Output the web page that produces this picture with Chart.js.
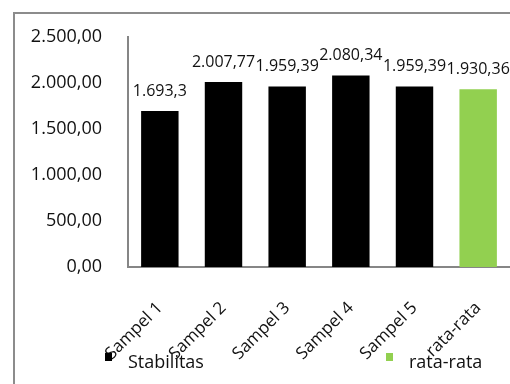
<!DOCTYPE html>
<html>
<head>
<meta charset="utf-8">
<script src="https://cdn.jsdelivr.net/npm/chart.js@4"></script>
<style>
  html, body { margin: 0; padding: 0; background: #fff; overflow: hidden; }
  #wrap { position: relative; width: 510px; height: 384px; }
</style>
</head>
<body>
<div id="wrap"><canvas id="chart" width="510" height="384"></canvas></div>
<script>
// --- data ---
const categories = ['Sampel 1', 'Sampel 2', 'Sampel 3', 'Sampel 4', 'Sampel 5', 'rata-rata'];
const stabilitas = [1693.3, 2007.77, 1959.39, 2080.34, 1959.39, null];
const rataRata = [null, null, null, null, null, 1930.36];
const yTicks = [0, 500, 1000, 1500, 2000, 2500];

const FONT = '"Open Sans", "DejaVu Sans", sans-serif';
const TEXT = '#111';

// 1234.5 -> "1.234,5" (fixed = true keeps both decimals)
function fmtNum(v, fixed) {
    let s = v.toFixed(2);
    if (!fixed) s = s.replace(/\.?0+$/, '');
    const [i, d] = s.split('.');
    const intPart = i.replace(/\B(?=(\d{3})+(?!\d))/g, '.');
    return d ? intPart + ',' + d : intPart;
}

// outer frame of the chart object (left + top edges visible)
const framePlugin = {
    id: 'frame',
    beforeDraw(chart) {
        const ctx = chart.ctx;
        ctx.save();
        ctx.strokeStyle = '#8c8c8c';
        ctx.lineWidth = 2;
        ctx.beginPath();
        ctx.moveTo(14, chart.height);
        ctx.lineTo(14, 13);
        ctx.lineTo(chart.width, 13);
        ctx.stroke();
        ctx.restore();
    }
};

// value labels above each bar
const valueLabels = {
    id: 'valueLabels',
    afterDatasetsDraw(chart) {
        const ctx = chart.ctx;
        ctx.save();
        ctx.font = '16px ' + FONT;
        ctx.fillStyle = TEXT;
        ctx.textAlign = 'center';
        ctx.textBaseline = 'middle';
        chart.data.datasets.forEach((ds, di) => {
            chart.getDatasetMeta(di).data.forEach((bar, i) => {
                const v = ds.data[i];
                if (v == null) return;
                ctx.fillText(fmtNum(v, false), bar.x, bar.y - 20);
            });
        });
        ctx.restore();
    }
};

// legend at the bottom, overlapping the category labels like the original
const legendSlots = [105, 386];
const bottomLegend = {
    id: 'bottomLegend',
    afterDraw(chart) {
        const ctx = chart.ctx;
        ctx.save();
        ctx.font = '18px ' + FONT;
        ctx.textBaseline = 'middle';
        chart.data.datasets.forEach((ds, di) => {
            const x = legendSlots[di];
            ctx.fillStyle = ds.backgroundColor;
            ctx.fillRect(x, 353, 7, 8);
            ctx.fillStyle = TEXT;
            ctx.fillText(ds.label, x + 23, 363);
        });
        ctx.restore();
    }
};

new Chart(document.getElementById('chart'), {
    type: 'bar',
    data: {
        labels: categories,
        datasets: [
            { label: 'Stabilitas', data: stabilitas, backgroundColor: '#000000' },
            { label: 'rata-rata', data: rataRata, backgroundColor: '#92d050' }
        ]
    },
    options: {
        responsive: false,
        animation: false,
        layout: { padding: { top: 32, left: 0, right: -4, bottom: 0 } },
        datasets: { bar: { barPercentage: 0.588, categoryPercentage: 1 } },
        plugins: {
            legend: { display: false },
            tooltip: { enabled: false }
        },
        scales: {
            x: {
                stacked: true,
                grid: { display: false, drawTicks: false },
                border: { color: '#868686', width: 2 },
                ticks: {
                    color: TEXT,
                    font: { family: FONT, size: 17 },
                    minRotation: 45,
                    maxRotation: 45,
                    padding: 31,
                    autoSkip: false
                },
                afterFit(scale) {
                    scale.height = 117;
                    scale.paddingRight = -4;
                }
            },
            y: {
                stacked: true,
                min: 0,
                max: yTicks[yTicks.length - 1],
                afterBuildTicks(scale) { scale.ticks = yTicks.map(v => ({ value: v })); },
                grid: { display: false, drawTicks: false },
                border: { color: '#868686', width: 2 },
                ticks: {
                    color: TEXT,
                    font: { family: FONT, size: 18 },
                    padding: 26,
                    callback: v => fmtNum(v, true)
                },
                afterFit(scale) { scale.width = 128; }
            }
        }
    },
    plugins: [framePlugin, valueLabels, bottomLegend]
});
</script>
</body>
</html>
